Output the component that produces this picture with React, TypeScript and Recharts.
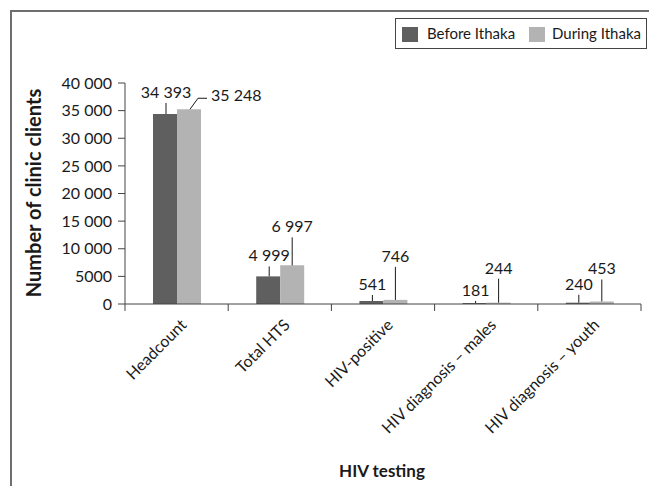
import { BarChart, Bar, XAxis, YAxis, LabelList } from "recharts";

const categories = [
  "Headcount",
  "Total HTS",
  "HIV-positive",
  "HIV diagnosis – males",
  "HIV diagnosis – youth",
];
const beforeIthaka = [34393, 4999, 541, 181, 240];
const duringIthaka = [35248, 6997, 746, 244, 453];
const yTicks = [0, 5000, 10000, 15000, 20000, 25000, 30000, 35000, 40000];

// how far above the bar top each value label sits (px, to the text baseline)
const beforeLift = [16, 15, 11, 7, 13];
const duringLift = [0, 33, 38, 29, 27];

const data = categories.map((name, i) => ({
  name,
  before: beforeIthaka[i],
  during: duringIthaka[i],
}));

const W = 649;
const H = 486;
const margin = { top: 83, right: 8, bottom: 12, left: 20 };
const Y_AXIS_W = 105;
const X_AXIS_H = 170;
const plotW = W - margin.left - margin.right - Y_AXIS_W;
const catW = plotW / categories.length;
const FONT = "Lato, 'Open Sans', sans-serif";
const INK = "#1a1a1a";
const AXIS = "#444";
const TXT = 16;

function spaced(v: number): string {
  return String(v).replace(/\B(?=(\d{3})+(?!\d))/g, " ");
}

function yTickFmt(v: number): string {
  return v >= 10000 ? spaced(v) : String(v);
}

function BeforeLabel(props: any) {
  const { x, y, width, value, index } = props;
  const cx = x + width / 2 + 1;
  const base = y - beforeLift[index];
  return (
    <g>
      <line x1={cx} y1={y} x2={cx} y2={base + 5} stroke={INK} strokeWidth={1} />
      <text x={cx} y={base} textAnchor="middle" fontSize={TXT} fontFamily={FONT} fill={INK}>
        {spaced(value)}
      </text>
    </g>
  );
}

function DuringLabel(props: any) {
  const { x, y, width, value, index } = props;
  const cx = x + width / 2;
  if (index === 0) {
    return (
      <g>
        <polyline
          points={`${cx + 1},${y} ${cx + 9},${y - 11} ${cx + 18},${y - 11}`}
          fill="none"
          stroke={INK}
          strokeWidth={1}
        />
        <text x={cx + 22} y={y - 8} textAnchor="start" fontSize={TXT} fontFamily={FONT} fill={INK}>
          {spaced(value)}
        </text>
      </g>
    );
  }
  const base = y - duringLift[index];
  return (
    <g>
      <line x1={cx} y1={y} x2={cx} y2={base + 5} stroke={INK} strokeWidth={1} />
      <text x={cx} y={base} textAnchor="middle" fontSize={TXT} fontFamily={FONT} fill={INK}>
        {spaced(value)}
      </text>
    </g>
  );
}

function CategoryTick(props: any) {
  const { x, y, payload, index } = props;
  const half = catW / 2;
  const px = x + 11;
  const py = y + 22;
  return (
    <g>
      <line x1={x - half} y1={y} x2={x - half} y2={y + 7} stroke={AXIS} />
      {index === categories.length - 1 && (
        <line x1={x + half} y1={y} x2={x + half} y2={y + 7} stroke={AXIS} />
      )}
      <text
        x={px}
        y={py}
        textAnchor="end"
        transform={`rotate(-45 ${px} ${py})`}
        fontSize={TXT}
        fontFamily={FONT}
        fill={INK}
      >
        {payload.value}
      </text>
    </g>
  );
}

function LegendBox() {
  const item = { position: "absolute" as const, top: 6, fontSize: 15, fontFamily: FONT, color: INK, lineHeight: "17px" };
  return (
    <div
      style={{
        position: "absolute",
        left: 395,
        top: 18,
        width: 252,
        height: 31,
        border: "1px solid #444",
        boxSizing: "border-box",
        background: "#fff",
      }}
    >
      <div style={{ position: "absolute", left: 6, top: 8, width: 16, height: 15, background: "#5f5f5f" }} />
      <span style={{ ...item, left: 31 }}>Before Ithaka</span>
      <div style={{ position: "absolute", left: 133, top: 8, width: 16, height: 15, background: "#b3b3b3" }} />
      <span style={{ ...item, left: 156 }}>During Ithaka</span>
    </div>
  );
}

export default function App() {
  return (
    <div style={{ position: "absolute", left: 0, top: 0, width: W, height: H, overflow: "hidden", background: "#fff" }}>
      <div
        style={{
          position: "absolute",
          left: 10,
          top: 10,
          width: 1000,
          height: 1000,
          borderLeft: "2px solid #6e6e6e",
          borderTop: "2px solid #6e6e6e",
        }}
      />
      <BarChart width={W} height={H} data={data} margin={margin} barGap={0} barSize={24}>
        <XAxis
          dataKey="name"
          height={X_AXIS_H}
          interval={0}
          tickSize={0}
          tickMargin={0}
          tickLine={false}
          axisLine={{ stroke: AXIS }}
          tick={<CategoryTick />}
          label={{
            content: () => (
              <text x={382} y={477} textAnchor="middle" fontSize={17} fontWeight={700} fontFamily={FONT} fill={INK}>
                HIV testing
              </text>
            ),
          }}
        />
        <YAxis
          width={Y_AXIS_W}
          domain={[0, 40000]}
          ticks={yTicks}
          interval={0}
          tickFormatter={yTickFmt}
          tickSize={7}
          tickMargin={6}
          tickLine={{ stroke: AXIS }}
          axisLine={{ stroke: AXIS }}
          tick={{ fontSize: TXT, fontFamily: FONT, fill: INK }}
          label={{
            content: () => (
              <text
                x={41}
                y={193}
                textAnchor="middle"
                transform="rotate(-90 41 193)"
                fontSize={20}
                fontWeight={700}
                fontFamily={FONT}
                fill={INK}
              >
                Number of clinic clients
              </text>
            ),
          }}
        />
        <Bar dataKey="before" name="Before Ithaka" fill="#5f5f5f" isAnimationActive={false}>
          <LabelList dataKey="before" content={<BeforeLabel />} />
        </Bar>
        <Bar dataKey="during" name="During Ithaka" fill="#b3b3b3" isAnimationActive={false}>
          <LabelList dataKey="during" content={<DuringLabel />} />
        </Bar>
      </BarChart>
      <LegendBox />
    </div>
  );
}
